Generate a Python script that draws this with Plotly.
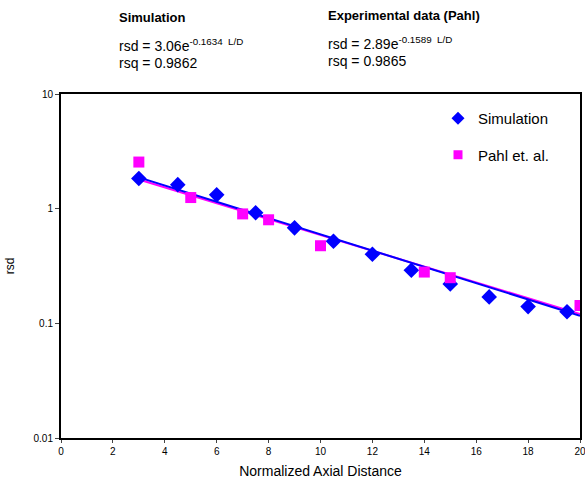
import numpy as np
import plotly.graph_objects as go

sim_x = [3, 4.5, 6, 7.5, 9, 10.5, 12, 13.5, 15, 16.5, 18, 19.5]
sim_y = [1.83, 1.62, 1.32, 0.92, 0.68, 0.52, 0.40, 0.29, 0.22, 0.17, 0.14, 0.126]
pahl_x = [3, 5, 7, 8, 10, 14, 15, 20]
pahl_y = [2.55, 1.25, 0.90, 0.80, 0.475, 0.28, 0.25, 0.143]

sim_a, sim_b = 3.06, -0.1634
pahl_a, pahl_b = 2.89, -0.1589

x_ticks = list(range(0, 21, 2))
y_ticks = [0.01, 0.1, 1, 10]
y_tick_text = ["0.01", "0.1", "1", "10"]

fx = np.linspace(3, 20, 60)

FONT = "Liberation Sans, Arial, sans-serif"
L, R, T, B = 61, 5, 94, 43
W, H = 585, 481
PW, PH = W - L - R, H - T - B

fig = go.Figure()
fig.add_trace(go.Scatter(x=fx, y=pahl_a * np.exp(pahl_b * fx), mode="lines",
                         line=dict(color="#ff00ff", width=2), showlegend=False, hoverinfo="skip"))
fig.add_trace(go.Scatter(x=fx, y=sim_a * np.exp(sim_b * fx), mode="lines",
                         line=dict(color="#0000ff", width=2), showlegend=False, hoverinfo="skip"))
fig.add_trace(go.Scatter(x=sim_x, y=sim_y, mode="markers", name="Simulation", showlegend=False,
                         marker=dict(symbol="diamond", size=12, color="#0000ff")))
fig.add_trace(go.Scatter(x=pahl_x, y=pahl_y, mode="markers", name="Pahl et. al.", showlegend=False,
                         marker=dict(symbol="square", size=11, color="#ff00ff")))
# legend entries
fig.add_trace(go.Scatter(x=[None], y=[None], mode="markers", name="Simulation", legendgroup="a",
                         marker=dict(symbol="diamond", size=10, color="#0000ff")))
fig.add_trace(go.Scatter(x=[None], y=[None], mode="markers", name="Pahl et. al.", legendgroup="b",
                         marker=dict(symbol="square", size=9, color="#ff00ff")))

fig.update_layout(
    width=W, height=H,
    margin=dict(l=L, r=R, t=T, b=B),
    plot_bgcolor="white", paper_bgcolor="white",
    font=dict(family=FONT, color="black"),
    legend=dict(x=(438 - L) / PW, y=(H - B - 102) / PH, xanchor="left", yanchor="top",
                font=dict(size=15, family=FONT), bgcolor="rgba(0,0,0,0)",
                tracegroupgap=14, itemwidth=30),
    xaxis=dict(range=[0, 20], tickvals=x_ticks, ticks="outside", ticklen=3,
               tickfont=dict(size=10), showgrid=False, zeroline=False, automargin=False,
               ticklabeloverflow="allow",
               showline=True, linecolor="black", linewidth=2, mirror=True,
               title=dict(text="Normalized Axial Distance", font=dict(size=14), standoff=10)),
    yaxis=dict(type="log", range=[-2, 1], tickvals=y_ticks, ticktext=y_tick_text,
               ticks="outside", ticklen=4, tickfont=dict(size=10), showgrid=False, automargin=False,
               zeroline=False, showline=True, linecolor="black", linewidth=2, mirror=True,
               title=dict(text="rsd", font=dict(size=12), standoff=16)),
)

ann = [
    (117, 17, "<b>Simulation</b>", 13),
    (117, 45, "rsd = 3.06e<sup>-0.1634  L/D</sup>", 14),
    (117, 63, "rsq = 0.9862", 14),
    (326, 15, "<b>Experimental data (Pahl)</b>", 13),
    (326, 43, "rsd = 2.89e<sup>-0.1589  L/D</sup>", 14),
    (326, 61, "rsq = 0.9865", 14),
]
for px, py, txt, sz in ann:
    fig.add_annotation(x=(px - L) / PW, y=(H - B - py) / PH, xref="paper", yref="paper",
                       xanchor="left", yanchor="middle", text=txt, showarrow=False,
                       font=dict(size=sz, family=FONT))

fig.write_html("out.html", config={"displayModeBar": False},
               post_script="document.body.style.margin='0';")
